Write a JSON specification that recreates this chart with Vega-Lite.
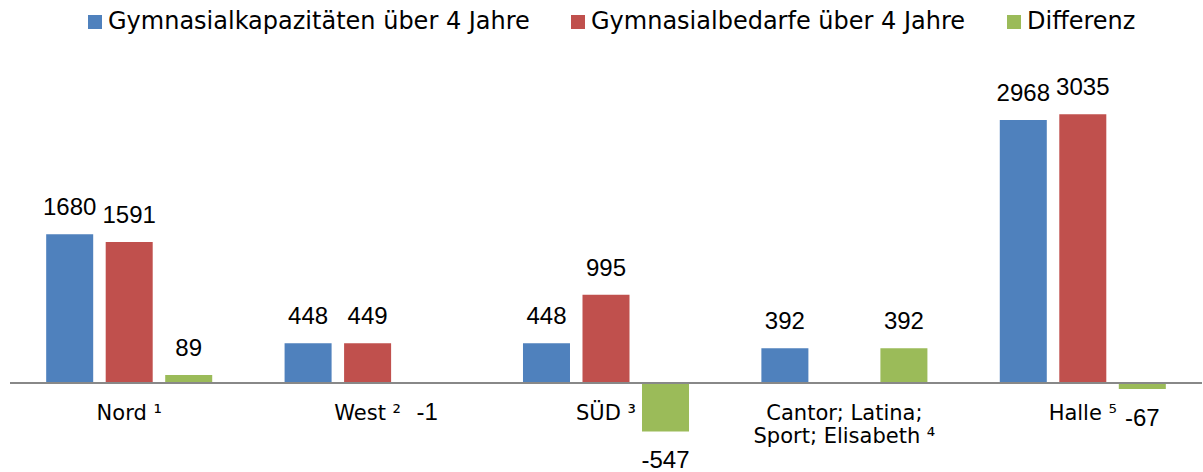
{
  "$schema": "https://vega.github.io/schema/vega-lite/v6.json",
  "width": 1192,
  "height": 372,
  "autosize": "none",
  "padding": {"left": 10, "top": 73, "right": 1, "bottom": 27},
  "background": "white",
  "config": {"view": {"stroke": null}, "font": "DejaVu Sans"},
  "datasets": {
    "bars": [
      {"cat": "Nord", "series": "Gymnasialkapazitäten über 4 Jahre", "value": 1680},
      {"cat": "Nord", "series": "Gymnasialbedarfe über 4 Jahre", "value": 1591},
      {"cat": "Nord", "series": "Differenz", "value": 89},
      {"cat": "West", "series": "Gymnasialkapazitäten über 4 Jahre", "value": 448},
      {"cat": "West", "series": "Gymnasialbedarfe über 4 Jahre", "value": 449},
      {"cat": "West", "series": "Differenz", "value": -1},
      {"cat": "SÜD", "series": "Gymnasialkapazitäten über 4 Jahre", "value": 448},
      {"cat": "SÜD", "series": "Gymnasialbedarfe über 4 Jahre", "value": 995},
      {"cat": "SÜD", "series": "Differenz", "value": -547},
      {"cat": "Cantor", "series": "Gymnasialkapazitäten über 4 Jahre", "value": 392},
      {"cat": "Cantor", "series": "Differenz", "value": 392},
      {"cat": "Halle", "series": "Gymnasialkapazitäten über 4 Jahre", "value": 2968},
      {"cat": "Halle", "series": "Gymnasialbedarfe über 4 Jahre", "value": 3035},
      {"cat": "Halle", "series": "Differenz", "value": -67}
    ],
    "cats": [
      {"cat": "Nord", "label": "Nord ¹"},
      {"cat": "West", "label": "West ²"},
      {"cat": "SÜD", "label": "SÜD ³"},
      {"cat": "Cantor", "label": "Cantor; Latina;\nSport; Elisabeth ⁴"},
      {"cat": "Halle", "label": "Halle ⁵"}
    ]
  },
  "layer": [
    {
      "data": {"name": "bars"},
      "mark": {"type": "bar"},
      "encoding": {
        "x": {"field": "cat", "type": "nominal", "axis": null, "sort": ["Nord", "West", "SÜD", "Cantor", "Halle"], "scale": {"domain": ["Nord", "West", "SÜD", "Cantor", "Halle"], "paddingInner": 0, "paddingOuter": 0}},
        "xOffset": {"field": "series", "type": "nominal", "scale": {"domain": ["Gymnasialkapazitäten über 4 Jahre", "Gymnasialbedarfe über 4 Jahre", "Differenz"], "paddingInner": 0.21, "paddingOuter": 0.608}},
        "y": {"field": "value", "type": "quantitative", "axis": null, "scale": {"domain": [-700, 3500], "nice": false, "zero": true}},
        "color": {
          "field": "series", "type": "nominal",
          "scale": {"domain": ["Gymnasialkapazitäten über 4 Jahre", "Gymnasialbedarfe über 4 Jahre", "Differenz"], "range": ["#4F81BD", "#C0504D", "#9BBB59"]},
          "legend": {"orient": "none", "direction": "horizontal", "legendX": 73, "legendY": -63, "title": null, "symbolType": "square", "symbolSize": 196, "symbolStrokeWidth": 0, "labelFontSize": 24, "labelFont": "DejaVu Sans", "labelColor": "#000000", "columnPadding": 36, "labelOffset": 1, "labelLimit": 1000, "padding": 0}
        }
      }
    },
    {
      "data": {"name": "bars"},
      "mark": {"type": "rule", "color": "#888888", "strokeWidth": 2},
      "encoding": {"y": {"datum": 0, "type": "quantitative"}}
    },
    {
      "data": {"name": "bars"},
      "transform": [{"filter": "datum.value >= 0"}],
      "mark": {"type": "text", "dy": -19, "fontSize": 24, "font": "Liberation Sans", "color": "#000000", "baseline": "alphabetic"},
      "encoding": {
        "x": {"field": "cat", "type": "nominal"},
        "xOffset": {"field": "series", "type": "nominal"},
        "y": {"field": "value", "type": "quantitative"},
        "text": {"field": "value", "type": "nominal"}
      }
    },
    {
      "data": {"name": "bars"},
      "transform": [{"filter": "datum.value < 0"}],
      "mark": {"type": "text", "dy": 37, "fontSize": 24, "font": "Liberation Sans", "color": "#000000", "baseline": "alphabetic"},
      "encoding": {
        "x": {"field": "cat", "type": "nominal"},
        "xOffset": {"field": "series", "type": "nominal"},
        "y": {"field": "value", "type": "quantitative"},
        "text": {"field": "value", "type": "nominal"}
      }
    },
    {
      "data": {"name": "cats"},
      "mark": {"type": "text", "dy": 37, "fontSize": 21, "font": "DejaVu Sans", "color": "#000000", "baseline": "alphabetic", "lineBreak": "\n", "lineHeight": 23},
      "encoding": {
        "x": {"field": "cat", "type": "nominal"},
        "y": {"datum": 0, "type": "quantitative"},
        "text": {"field": "label", "type": "nominal"}
      }
    }
  ]
}
